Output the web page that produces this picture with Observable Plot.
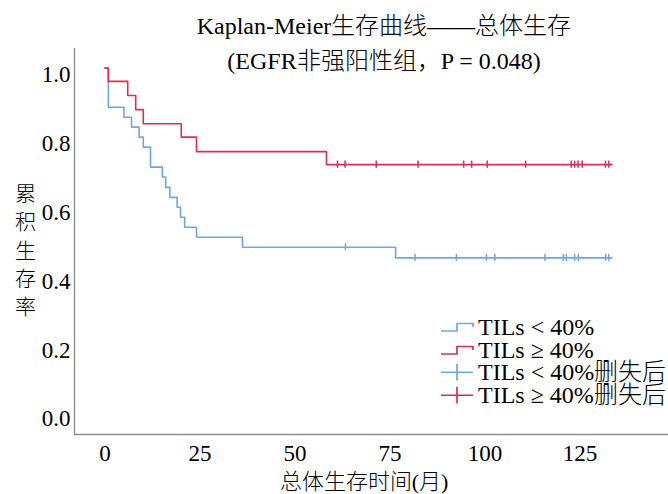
<!DOCTYPE html>
<html>
<head>
<meta charset="utf-8">
<script src="https://cdn.jsdelivr.net/npm/d3@7"></script>
<script src="https://cdn.jsdelivr.net/npm/@observablehq/plot@0.6"></script>
<style>
  @font-face { font-family: "CJKLight"; src: local("Noto Sans CJK SC Light"), local("NotoSansCJKsc-Light"), local("Noto Sans CJK SC DemiLight"), local("NotoSansCJKsc-DemiLight"); }
  html, body { margin: 0; padding: 0; background: #fff; }
  #wrap { position: relative; width: 668px; height: 494px; overflow: hidden; font-family: "Liberation Serif", "CJKLight", "Noto Sans CJK SC", serif; color: #000; }
  #chart { position: absolute; left: 0; top: 0; }
  .abs { position: absolute; white-space: nowrap; }
  .title { left: 84px; width: 600px; text-align: center; font-size: 24px; line-height: 30px; }
  #ylab { left: 13px; top: 178px; width: 24px; text-align: center; font-family: "CJKLight", "Noto Sans CJK SC", sans-serif; font-size: 21px; line-height: 28.3px; }
  #xlab { left: 164px; width: 400px; top: 469px; text-align: center; font-size: 22px; line-height: 26px; }
  #legend { left: 440px; top: 316px; }
  .row { display: flex; align-items: center; height: 22.5px; }
  .row svg { flex: none; }
  .row span { margin-left: 4px; font-size: 24px; line-height: 22.5px; }
</style>
</head>
<body>
<div id="wrap">
  <div id="chart"></div>
  <div class="abs title" style="top:11px">Kaplan-Meier生存曲线——总体生存</div>
  <div class="abs title" style="top:46px">(EGFR非强阳性组，P = 0.048)</div>
  <div class="abs" id="ylab">累<br>积<br>生<br>存<br>率</div>
  <div class="abs" id="xlab">总体生存时间(月)</div>
  <div class="abs" id="legend"></div>
</div>
<script>
// ---- data ----
const groupNames = ["TILs < 40%", "TILs ≥ 40%"];
const censorNames = ["TILs < 40%删失后", "TILs ≥ 40%删失后"];
const groupColors = ["#6fa6ea", "#dd2c55"];

// TILs < 40%: event times (months) and survival after each event
const lowTimes = [0.9, 5.0, 7.0, 9.0, 10.1, 12.0, 15.1, 16.0, 17.1, 19.0, 19.9, 21.0, 24.1, 36.2, 76.5];
const lowSurv  = [0.886, 0.857, 0.828, 0.799, 0.770, 0.712, 0.683, 0.653, 0.624, 0.595, 0.566, 0.537, 0.508, 0.479, 0.448];
const lowCensor = [63.3, 81.6, 92.5, 100.4, 102.6, 115.8, 120.6, 121.4, 123.6, 124.6, 131.8, 132.6];

// TILs >= 40%
const highTimes = [0.9, 6.0, 8.1, 10.1, 20.1, 24.1, 58.3];
const highSurv  = [0.961, 0.920, 0.879, 0.838, 0.799, 0.757, 0.719];
const highCensor = [61.2, 63.2, 71.4, 82.4, 94.4, 96.5, 100.6, 110.7, 122.7, 123.6, 124.5, 125.6, 131.7, 132.6];

const followUpEnd = [133.4, 133.4];

const xTicks = [0, 25, 50, 75, 100, 125];
const yTicks = [0, 0.2, 0.4, 0.6, 0.8, 1.0];
const xDomain = [-8, 148.3];
const yDomain = [-0.0654, 1.0567];

// ---- build step tables ----
function curve(times, surv, end, g) {
  const pts = [{t: 0, s: 1, g}];
  times.forEach((t, i) => pts.push({t, s: surv[i], g}));
  pts.push({t: end, s: surv[surv.length - 1], g});
  return pts;
}
function survAt(times, surv, t) {
  let s = 1;
  times.forEach((ti, i) => { if (ti <= t) s = surv[i]; });
  return s;
}
function censors(times, surv, cens, g) {
  return cens.map(t => ({t, s: survAt(times, surv, t), g}));
}
const lowCurve = curve(lowTimes, lowSurv, followUpEnd[0], 0);
const highCurve = curve(highTimes, highSurv, followUpEnd[1], 1);
const lowCens = censors(lowTimes, lowSurv, lowCensor, 0);
const highCens = censors(highTimes, highSurv, highCensor, 1);

const axisColor = "#8f8f8f";
const tickHalf = 0.0105;

const plot = Plot.plot({
  width: 668,
  height: 494,
  marginLeft: 74,
  marginRight: 0,
  marginTop: 48,
  marginBottom: 60,
  style: {fontFamily: "'Liberation Serif', serif", fontSize: "23px", color: "#000", background: "transparent"},
  x: {domain: xDomain},
  y: {domain: yDomain},
  marks: [
    Plot.ruleY([yDomain[0]], {stroke: axisColor, strokeWidth: 1.4}),
    Plot.ruleX([xDomain[0]], {stroke: axisColor, strokeWidth: 1.4}),
    Plot.axisX({ticks: xTicks, tickSize: 0, tickPadding: 10, fontSize: 23, label: null}),
    Plot.axisY({ticks: yTicks, tickSize: 0, tickPadding: 4, dy: 7, fontSize: 23, tickFormat: d3.format(".1f"), label: null}),
    Plot.line(lowCurve, {x: "t", y: "s", curve: "step-after", stroke: groupColors[0], strokeWidth: 1.6}),
    Plot.ruleX(lowCens, {x: "t", y1: d => d.s - tickHalf, y2: d => d.s + tickHalf, stroke: groupColors[0], strokeWidth: 1.5}),
    Plot.line(highCurve, {x: "t", y: "s", curve: "step-after", stroke: groupColors[1], strokeWidth: 1.6}),
    Plot.ruleX(highCens, {x: "t", y1: d => d.s - tickHalf, y2: d => d.s + tickHalf, stroke: groupColors[1], strokeWidth: 1.5})
  ]
});
document.getElementById("chart").appendChild(plot);

// ---- legend ----
const legend = document.getElementById("legend");
const ns = "http://www.w3.org/2000/svg";
function addRow(label, color, kind) {
  const row = document.createElement("div");
  row.className = "row";
  const svg = document.createElementNS(ns, "svg");
  svg.setAttribute("width", 34);
  svg.setAttribute("height", 22.5);
  const p = document.createElementNS(ns, "path");
  p.setAttribute("d", kind === "step" ? "M1,15 H17 V7.5 H33 V11" : "M1,11.25 H33 M17,3 V19.5");
  p.setAttribute("fill", "none");
  p.setAttribute("stroke", color);
  p.setAttribute("stroke-width", 1.7);
  svg.appendChild(p);
  row.appendChild(svg);
  const span = document.createElement("span");
  span.textContent = label;
  row.appendChild(span);
  legend.appendChild(row);
}
groupNames.forEach((n, i) => addRow(n, groupColors[i], "step"));
censorNames.forEach((n, i) => addRow(n, groupColors[i], "cross"));
</script>
</body>
</html>
